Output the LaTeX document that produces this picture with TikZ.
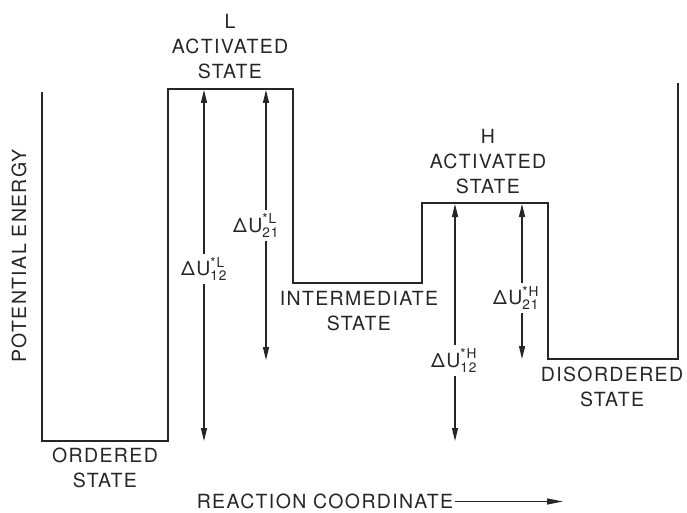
\documentclass[tikz,border=0pt]{standalone}
\usepackage{amsmath}
\usepackage{fontspec}
\setmainfont{TeX Gyre Heros}[LetterSpace=7.0]
\usetikzlibrary{arrows.meta,positioning}

\begin{document}
\begin{tikzpicture}[x=1pt,y=-1pt,
every node/.style={font=\fontsize{19.5}{25}\selectfont,align=center,inner sep=1pt,text=black!85},
profile/.style={line width=1.8pt,black!85},
vec/.style={line width=1.3pt,black!85,-{Triangle[length=13pt,width=6pt]}},
dlabel/.style={inner xsep=1pt,inner ysep=3pt}]
\useasboundingbox (0,0) rectangle (687,513);
% energy profile
\draw[profile] (42,92) |- (168,441) |- (293,89) |- (422,283) |- (548,203) |- (678,359) -- (678,83);
% state labels
\node (lact) at (230,46.5) {L\\ACTIVATED\\STATE};
\node (hact) at (488,162) {H\\ACTIVATED\\STATE};
\node (inter) at (359,311) {INTERMEDIATE\\STATE};
\node (ord) at (105,468) {ORDERED\\STATE};
\node (dis) at (612,387) {DISORDERED\\STATE};
\node[rotate=90] (pe) at (19,256) {POTENTIAL ENERGY};
\node[inner xsep=2pt] (rc) at (325,501.5) {REACTION COORDINATE};
\coordinate (rcend) at (563,501.5);
\draw[line width=1.3pt,black!85,-{Triangle[length=16pt,width=6pt]}] (rc.east) -- (rcend);
% barrier heights
\coordinate (l12top) at (204,90);
\coordinate (l12bot) at (204,441);
\coordinate (l21top) at (266,90);
\coordinate (l21bot) at (266,360);
\coordinate (h12top) at (455,204);
\coordinate (h12bot) at (455,441);
\coordinate (h21top) at (522,204);
\coordinate (h21bot) at (522,359);
\node[dlabel] (l12) at (204,269) {$\text{ΔU}_{\text{12}}^{\text{*L}}$};
\node[dlabel] (l21) at (256,225.5) {$\text{ΔU}_{\text{21}}^{\text{*L}}$};
\node[dlabel] (h12) at (454,360.5) {$\text{ΔU}_{\text{12}}^{\text{*H}}$};
\node[dlabel] (h21) at (516,298) {$\text{ΔU}_{\text{21}}^{\text{*H}}$};
\draw[vec] (l12top |- l12.north) -- (l12top);
\draw[vec] (l12top |- l12.south) -- (l12bot);
\draw[vec] (l21top |- l21.north) -- (l21top);
\draw[vec] (l21top |- l21.south) -- (l21bot);
\draw[vec] (h12top |- h12.north) -- (h12top);
\draw[vec] (h12top |- h12.south) -- (h12bot);
\draw[vec] (h21top |- h21.north) -- (h21top);
\draw[vec] (h21top |- h21.south) -- (h21bot);
\end{tikzpicture}
\end{document}
